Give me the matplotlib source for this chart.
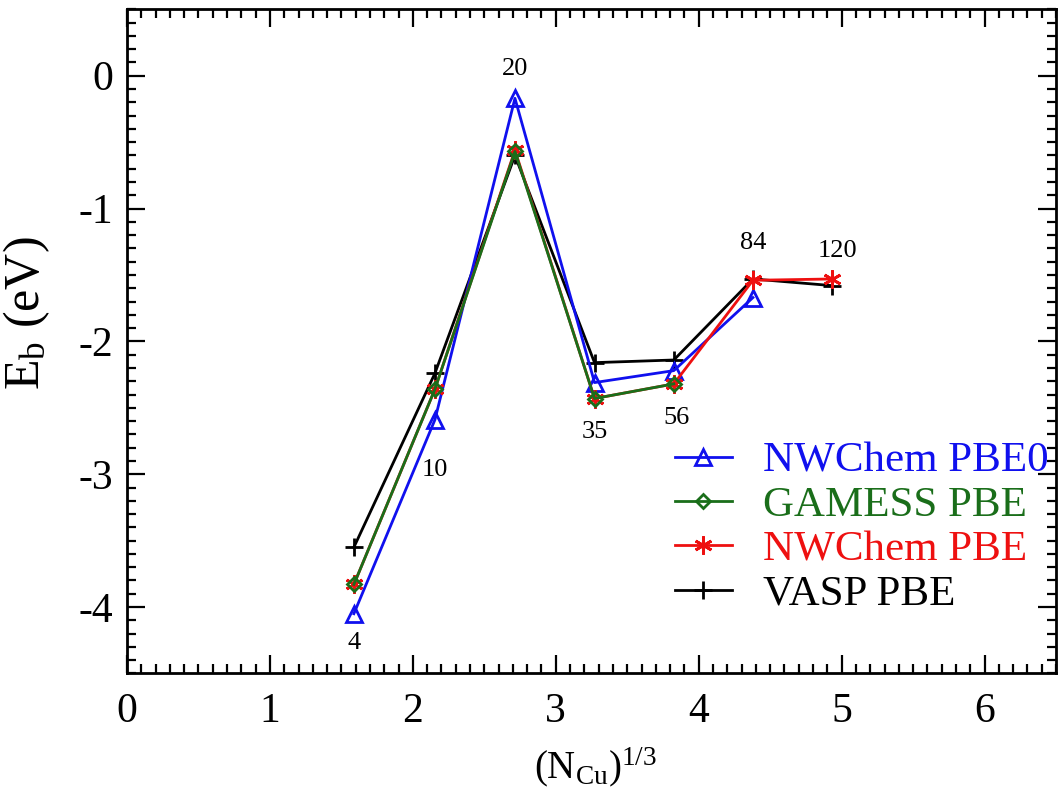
import matplotlib.pyplot as plt
import numpy as np
from matplotlib.ticker import MultipleLocator

plt.rcParams['font.family'] = 'Liberation Serif'
plt.rcParams['mathtext.fontset'] = 'custom'
plt.rcParams['mathtext.rm'] = 'Liberation Serif'
plt.rcParams['mathtext.it'] = 'Liberation Serif:italic'

# cluster sizes and x = N^(1/3)
sizes = [4, 10, 20, 35, 56, 84, 120]
x_all = [n ** (1.0 / 3.0) for n in sizes]

pbe0 = [-4.05, -2.59, -0.17, -2.31, -2.22, -1.67]
gamess = [-3.83, -2.36, -0.57, -2.43, -2.32]
nw_pbe = [-3.83, -2.36, -0.56, -2.43, -2.32, -1.54, -1.53]
vasp = [-3.55, -2.24, -0.60, -2.16, -2.14, -1.53, -1.58]

size_labels = ['4', '10', '20', '35', '56', '84', '120']
label_y = [-4.27, -2.97, 0.05, -2.68, -2.58, -1.26, -1.32]
label_dx = [0, 0, 0, 0, 0.02, 0, 0.04]

fig = plt.figure(figsize=(10.61, 7.9), dpi=100)
ax = fig.add_axes([0.1197, 0.1475, 0.8756, 0.8407])

ax.plot(x_all[:len(pbe0)], pbe0, color='#1010ee', lw=2, marker='^', ms=12,
        mfc='none', mew=2, label='NWChem PBE0', zorder=3)
ax.plot(x_all[:len(gamess)], gamess, color='#1a6e1a', lw=2, marker='D', ms=7,
        mfc='none', mew=2, label='GAMESS PBE', zorder=5)
ax.plot(x_all, nw_pbe, color='#ee1010', lw=2, marker=(6, 2, 0), ms=13,
        mew=2, label='NWChem PBE', zorder=4)
ax.plot(x_all, vasp, color='black', lw=2, marker='+', ms=13,
        mew=2, label='VASP PBE', zorder=2)

for xi, yi, dx, s in zip(x_all, label_y, label_dx, size_labels):
    ax.text(xi + dx, yi, s, fontsize=19, ha='center', va='center')

ax.set_xlim(0, 6.5)
ax.set_ylim(-4.5, 0.5)
ax.xaxis.set_minor_locator(MultipleLocator(0.1))
ax.yaxis.set_minor_locator(MultipleLocator(0.1))
ax.set_xticks([0, 1, 2, 3, 4, 5, 6])
ax.set_yticks([0, -1, -2, -3, -4])
ax.set_yticklabels(['0', '-1', '-2', '-3', '-4'])

ax.tick_params(which='both', direction='in', top=True, right=True, width=1.6)
ax.tick_params(which='major', length=13, labelsize=30, pad=10)
ax.tick_params(which='minor', length=6.5)
ax.tick_params(axis='x', which='major', pad=14)
for sp in ax.spines.values():
    sp.set_linewidth(2)

ax.set_xlabel(r'(N$_\mathrm{Cu}$)$^\mathrm{1/3}$', fontsize=28)
ax.xaxis.set_label_coords(0.504, -0.108)
ax.set_ylabel(r'E$_\mathrm{b}$ (eV)', fontsize=36)
ax.yaxis.set_label_coords(-0.081, 0.5425)

leg = ax.legend(loc='center left', bbox_to_anchor=(0.636, 0.332),
                bbox_transform=fig.transFigure, frameon=False, fontsize=31,
                handlelength=1.32, handletextpad=0.72, labelspacing=0.12,
                borderpad=0, borderaxespad=0)
for txt, line in zip(leg.get_texts(), leg.get_lines()):
    txt.set_color(line.get_color())

fig.savefig('out.png', dpi=100)
